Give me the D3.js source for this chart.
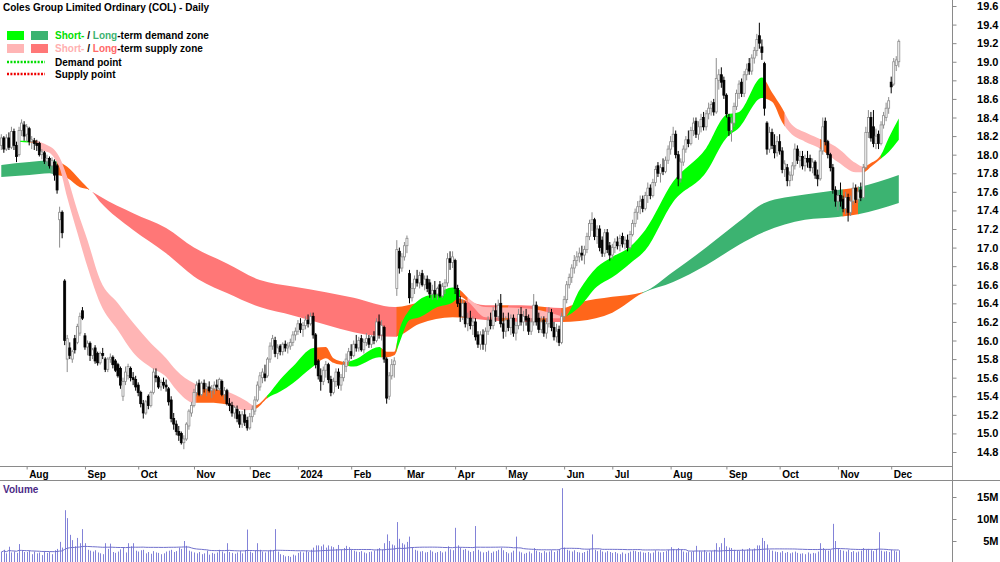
<!DOCTYPE html>
<html>
<head>
<meta charset="utf-8">
<script src="https://cdn.jsdelivr.net/npm/d3@7"></script>
<style>
  body { margin: 0; background: #fff; }
  svg { display: block; font-family: "Liberation Sans", Arial, sans-serif; }
</style>
</head>
<body>
<svg id="chart" width="1000" height="562"></svg>
<script>
// daily bars, one array per month: [open, high, low, close, volume (millions)]
var jul23 = [
  [18.10,18.22,18.05,18.18,2.5],[18.18,18.20,18.02,18.06,3.0],[18.06,18.22,18.04,18.18,2.2],
  [18.18,18.24,18.05,18.08,3.7],[18.08,18.30,18.06,18.25,2.4],[18.25,18.28,18.05,18.10,2.6],
  [18.10,18.14,17.92,17.98,2.3],[18.00,18.30,17.98,18.26,4.3],[18.26,18.38,18.20,18.34,2.8],
  [18.32,18.36,18.15,18.20,2.5]
];
var aug23 = [
  [18.22,18.33,18.14,18.30,2.5],[18.28,18.30,18.10,18.14,2.8],[18.14,18.20,18.06,18.16,2.0],
  [18.15,18.18,18.05,18.12,2.6],[18.12,18.16,18.04,18.10,2.2],[18.12,18.14,17.98,18.00,2.4],
  [18.00,18.06,17.95,18.03,1.8],[18.02,18.04,17.90,17.93,2.7],[17.93,18.00,17.88,17.96,2.3],
  [17.96,17.98,17.85,17.88,2.5],[17.88,17.97,17.80,17.94,2.0],[17.92,17.95,17.72,17.78,2.9],
  [17.88,17.90,17.58,17.62,3.2],[17.30,17.44,17.00,17.38,4.8],[17.38,17.40,17.10,17.16,3.5],
  [16.64,16.66,15.95,16.00,12.0],[15.80,16.06,15.66,16.02,10.2],[15.92,15.98,15.80,15.84,6.4],
  [15.80,15.90,15.76,15.88,5.2],[16.02,16.06,15.86,15.90,3.8],[15.98,16.18,15.96,16.15,5.7],
  [16.08,16.30,16.05,16.26,4.5],[16.32,16.36,16.22,16.24,7.7]
];
var sep23 = [
  [16.05,16.08,15.90,15.93,4.5],[15.93,16.00,15.84,15.97,3.0],[15.97,15.99,15.78,15.84,2.8],
  [15.84,15.92,15.80,15.90,2.6],[15.92,15.95,15.75,15.78,2.9],[15.86,15.88,15.73,15.76,2.4],
  [15.76,15.88,15.74,15.86,2.2],[15.86,15.92,15.80,15.84,2.0],[15.80,15.82,15.66,15.69,4.5],
  [15.69,15.82,15.66,15.80,3.2],[15.80,15.86,15.76,15.82,4.4],[15.82,15.84,15.70,15.74,2.5],
  [15.78,15.80,15.66,15.68,2.3],[15.74,15.76,15.60,15.62,2.6],[15.70,15.72,15.48,15.52,3.1],
  [15.40,15.60,15.35,15.56,3.6],[15.56,15.72,15.52,15.66,2.4],[15.62,15.75,15.58,15.72,4.5],
  [15.70,15.72,15.56,15.60,3.8],[15.60,15.66,15.52,15.58,4.5],[15.58,15.62,15.46,15.50,2.8]
];
var oct23 = [
  [15.52,15.55,15.40,15.44,2.6],[15.44,15.46,15.28,15.32,2.9],[15.32,15.36,15.16,15.22,3.0],
  [15.22,15.36,15.20,15.34,2.2],[15.40,15.42,15.26,15.30,2.5],[15.30,15.46,15.28,15.44,2.1],
  [15.44,15.70,15.42,15.66,2.7],[15.62,15.70,15.55,15.60,2.4],[15.60,15.62,15.48,15.50,2.3],
  [15.50,15.58,15.46,15.55,2.0],[15.55,15.60,15.48,15.52,2.2],[15.52,15.58,15.45,15.50,2.6],
  [15.48,15.50,15.30,15.34,2.8],[15.36,15.40,15.12,15.16,3.0],[15.16,15.22,15.04,15.10,2.5],
  [15.10,15.14,14.98,15.02,2.7],[15.02,15.08,14.92,14.98,3.5],[15.00,15.02,14.88,14.90,3.2],
  [14.90,14.98,14.83,14.94,5.0],[14.94,15.12,14.92,15.10,3.9],[15.08,15.26,15.04,15.24,2.8],
  [15.22,15.34,15.18,15.30,2.6]
];
var nov23 = [
  [15.30,15.48,15.28,15.44,2.4],[15.44,15.56,15.40,15.52,2.2],[15.54,15.58,15.40,15.42,2.5],
  [15.42,15.56,15.40,15.54,2.0],[15.54,15.58,15.44,15.48,2.2],[15.48,15.54,15.40,15.50,2.8],
  [15.50,15.56,15.44,15.46,1.9],[15.46,15.52,15.38,15.48,2.3],[15.48,15.56,15.42,15.52,2.1],
  [15.52,15.58,15.46,15.50,2.4],[15.48,15.60,15.46,15.58,3.0],[15.56,15.58,15.40,15.42,2.6],
  [15.42,15.50,15.36,15.46,2.2],[15.46,15.48,15.30,15.32,4.5],[15.32,15.38,15.24,15.30,2.5],
  [15.30,15.34,15.18,15.22,2.3],[15.22,15.30,15.16,15.28,2.1],[15.26,15.30,15.12,15.16,2.4],
  [15.20,15.24,15.06,15.10,2.7],[15.10,15.24,15.06,15.20,2.2],[15.20,15.26,15.08,15.12,2.9],
  [15.14,15.18,15.03,15.06,7.6]
];
var dec23 = [
  [15.06,15.22,15.04,15.18,2.6],[15.18,15.30,15.12,15.26,2.3],[15.24,15.40,15.20,15.36,2.8],
  [15.36,15.56,15.34,15.52,4.5],[15.50,15.66,15.46,15.62,3.0],[15.60,15.70,15.54,15.66,2.6],
  [15.64,15.74,15.56,15.60,2.4],[15.62,15.82,15.60,15.80,2.7],[15.80,15.98,15.76,15.94,3.0],
  [15.94,16.06,15.90,16.02,2.8],[16.00,16.04,15.82,15.86,7.7],[15.86,15.96,15.80,15.92,2.6],
  [15.94,15.96,15.84,15.88,2.0],[15.88,15.98,15.84,15.96,1.8],[15.96,16.00,15.88,15.92,1.5],
  [15.92,15.98,15.86,15.94,1.6],[15.94,16.02,15.90,15.98,1.4],[15.98,16.10,15.94,16.06,1.9],
  [16.06,16.14,16.00,16.10,1.7]
];
var jan24 = [
  [16.10,16.22,16.06,16.18,2.3],[16.18,16.24,16.08,16.12,2.6],[16.12,16.20,16.04,16.16,2.4],
  [16.16,16.26,16.12,16.22,2.8],[16.22,16.28,16.14,16.18,2.5],[16.18,16.30,16.16,16.26,3.0],
  [16.26,16.30,16.02,16.06,3.5],[16.06,16.08,15.70,15.74,4.0],[15.78,15.80,15.58,15.62,4.0],
  [15.62,15.70,15.46,15.56,3.8],[15.56,15.72,15.52,15.68,4.2],[15.68,15.78,15.60,15.74,3.5],
  [15.74,15.76,15.54,15.58,4.0],[15.58,15.62,15.40,15.44,3.8],[15.44,15.60,15.42,15.56,3.6],
  [15.56,15.70,15.50,15.66,3.2],[15.66,15.70,15.48,15.52,4.1],[15.52,15.64,15.46,15.60,3.0],
  [15.60,15.78,15.56,15.74,3.4],[15.72,15.86,15.66,15.80,3.9],[15.78,15.92,15.74,15.88,3.6]
];
var feb24 = [
  [15.88,15.96,15.80,15.84,3.0],[15.84,16.00,15.82,15.96,2.8],[15.96,16.06,15.88,15.92,2.6],
  [15.92,16.04,15.88,16.00,2.5],[16.02,16.06,15.88,15.90,2.7],[15.90,16.02,15.86,15.98,2.4],
  [15.98,16.08,15.94,16.02,2.2],[16.02,16.06,15.92,15.96,2.5],[15.96,16.06,15.92,16.04,2.6],
  [16.04,16.10,15.96,16.00,2.8],[16.00,16.24,15.98,16.20,3.2],[16.20,16.28,16.02,16.06,3.4],
  [16.06,16.22,16.00,16.16,3.0],[16.14,16.16,15.76,15.80,4.5],[15.80,15.82,15.32,15.38,6.5],
  [15.40,15.66,15.36,15.62,5.0],[15.62,15.80,15.58,15.74,4.2],[15.74,15.82,15.60,15.78,4.0],
  [16.56,17.08,16.48,16.98,9.3],[16.96,17.00,16.72,16.78,5.5],[16.78,16.94,16.74,16.90,4.5]
];
var mar24 = [
  [16.90,17.06,16.86,17.02,4.2],[17.02,17.13,16.94,17.10,4.8],[16.72,16.76,16.40,16.46,6.0],
  [16.46,16.62,16.42,16.56,3.5],[16.56,16.70,16.50,16.66,3.0],[16.66,16.76,16.58,16.62,2.8],
  [16.62,16.74,16.56,16.70,2.6],[16.72,16.76,16.58,16.60,2.7],[16.60,16.70,16.54,16.66,2.4],
  [16.66,16.70,16.52,16.56,2.5],[16.62,16.66,16.46,16.50,2.9],[16.50,16.60,16.44,16.54,2.6],
  [16.54,16.64,16.46,16.50,2.3],[16.50,16.58,16.44,16.56,2.5],[16.60,16.64,16.46,16.48,2.7],
  [16.48,16.62,16.46,16.58,2.4],[16.58,16.66,16.50,16.62,2.6],[16.62,16.94,16.58,16.88,3.8],
  [16.88,16.96,16.76,16.84,3.1],[16.84,16.96,16.78,16.90,2.9]
];
var apr24 = [
  [16.86,16.88,16.50,16.56,8.0],[16.56,16.60,16.36,16.40,4.0],[16.40,16.48,16.20,16.26,3.5],
  [16.26,16.44,16.22,16.40,3.0],[16.40,16.42,16.14,16.18,3.2],[16.18,16.30,16.10,16.24,2.8],
  [16.24,16.32,16.12,16.16,2.5],[16.16,16.26,16.06,16.20,2.7],[16.20,16.24,16.00,16.04,8.4],
  [16.06,16.10,15.92,15.96,3.0],[15.96,16.10,15.90,16.06,2.6],[16.06,16.12,15.90,15.96,2.4],
  [15.96,16.14,15.88,16.10,2.5],[16.10,16.26,16.06,16.22,2.8],[16.22,16.30,16.12,16.16,2.3],
  [16.16,16.36,16.12,16.32,2.6],[16.32,16.40,16.20,16.26,2.7],[16.26,16.44,16.22,16.38,3.0],
  [16.40,16.50,16.14,16.18,3.4],[16.18,16.30,16.02,16.10,2.9]
];
var may24 = [
  [16.10,16.26,16.04,16.22,2.5],[16.22,16.30,16.10,16.14,2.2],[16.14,16.28,16.06,16.24,2.4],
  [16.24,16.28,16.04,16.08,2.8],[16.08,16.20,16.00,16.16,6.0],[16.16,16.34,16.12,16.28,2.6],
  [16.28,16.36,16.16,16.20,2.4],[16.20,16.32,16.10,16.26,2.1],[16.26,16.34,16.16,16.22,2.3],
  [16.24,16.28,16.06,16.10,2.6],[16.10,16.24,16.06,16.20,2.2],[16.20,16.50,16.16,16.38,3.4],
  [16.38,16.42,16.16,16.20,2.8],[16.24,16.30,16.08,16.12,2.5],[16.12,16.26,16.08,16.20,2.3],
  [16.22,16.26,16.04,16.08,2.7],[16.08,16.24,16.02,16.18,2.4],[16.18,16.36,16.14,16.30,2.6],
  [16.30,16.34,16.10,16.14,2.9],[16.14,16.20,16.00,16.04,2.5],[16.04,16.18,15.98,16.10,2.8],
  [16.12,16.16,15.94,15.98,3.2],[15.98,16.30,15.96,16.26,17.0]
];
var jun24 = [
  [16.26,16.48,16.22,16.44,3.5],[16.44,16.64,16.40,16.60,3.0],[16.60,16.72,16.56,16.68,2.8],
  [16.68,16.82,16.62,16.78,2.6],[16.78,16.92,16.72,16.86,2.9],[16.86,16.96,16.80,16.90,2.5],
  [16.90,17.00,16.84,16.94,2.4],[16.94,17.02,16.86,16.92,2.3],[16.92,17.02,16.82,16.98,2.5],
  [16.98,17.16,16.94,17.12,2.8],[17.12,17.30,17.08,17.26,3.2],[17.26,17.38,17.18,17.30,6.5],
  [17.30,17.32,17.08,17.12,3.0],[17.12,17.24,17.04,17.20,2.7],[17.20,17.24,16.96,17.00,3.0],
  [17.08,17.12,16.90,16.94,2.6],[16.94,17.20,16.90,17.16,2.4],[17.16,17.20,16.94,16.98,2.7],
  [17.02,17.06,16.86,16.92,2.5]
];
var jul24 = [
  [16.92,17.04,16.88,17.00,2.3],[17.00,17.10,16.94,17.06,2.5],[17.06,17.12,16.98,17.02,2.2],
  [17.02,17.14,16.96,17.10,2.0],[17.12,17.16,17.00,17.04,2.4],[17.04,17.12,16.98,17.08,2.1],
  [17.08,17.14,16.96,17.00,2.3],[17.00,17.18,16.98,17.14,2.6],[17.14,17.30,17.12,17.26,2.8],
  [17.26,17.42,17.22,17.38,2.7],[17.38,17.50,17.30,17.44,2.5],[17.44,17.56,17.36,17.50,2.6],
  [17.52,17.56,17.38,17.42,2.4],[17.42,17.60,17.40,17.56,2.3],[17.56,17.70,17.48,17.64,2.5],
  [17.64,17.68,17.52,17.56,2.2],[17.56,17.74,17.54,17.70,2.4],[17.70,17.88,17.66,17.84,2.9],
  [17.88,17.92,17.76,17.80,2.6],[17.80,17.90,17.70,17.86,2.4],[17.86,17.96,17.78,17.82,2.5],
  [17.82,17.98,17.80,17.94,2.7],[17.94,18.10,17.90,18.06,3.0]
];
var aug24 = [
  [18.06,18.20,18.00,18.14,3.6],[18.14,18.30,18.08,18.22,3.2],[18.22,18.26,17.96,18.00,3.0],
  [18.00,18.04,17.66,17.74,3.4],[17.74,17.96,17.70,17.92,3.0],[17.92,18.10,17.88,18.06,2.6],
  [18.06,18.20,18.02,18.16,2.4],[18.16,18.26,18.08,18.12,2.6],[18.12,18.30,18.10,18.26,2.5],
  [18.26,18.40,18.20,18.34,2.7],[18.36,18.40,18.18,18.22,3.9],[18.22,18.36,18.16,18.30,2.8],
  [18.30,18.44,18.24,18.38,2.6],[18.40,18.46,18.26,18.30,2.9],[18.30,18.48,18.26,18.44,2.5],
  [18.44,18.56,18.38,18.50,2.4],[18.50,18.58,18.42,18.54,2.7],[18.56,18.60,18.42,18.46,3.0],
  [18.46,19.04,18.44,18.82,4.5],[18.80,18.92,18.70,18.86,3.6],[18.86,18.94,18.72,18.78,4.5],
  [18.80,18.84,18.60,18.64,5.7]
];
var sep24 = [
  [18.64,18.66,18.40,18.44,3.8],[18.40,18.44,18.20,18.26,3.5],[18.26,18.40,18.14,18.34,3.4],
  [18.34,18.56,18.30,18.52,3.0],[18.52,18.70,18.48,18.66,2.8],[18.66,18.80,18.60,18.76,2.7],
  [18.78,18.82,18.62,18.66,3.2],[18.66,18.90,18.62,18.86,2.9],[18.86,18.98,18.80,18.92,3.1],
  [18.98,19.04,18.86,18.90,3.4],[18.90,19.08,18.86,19.04,3.0],[19.04,19.16,18.98,19.12,3.3],
  [19.12,19.30,19.06,19.24,4.0],[19.28,19.42,19.14,19.20,4.0],[19.16,19.24,19.02,19.10,5.7],
  [18.98,19.00,18.42,18.50,5.0],[18.34,18.36,18.00,18.06,4.2],[18.06,18.30,18.02,18.24,3.0],
  [18.24,18.28,18.06,18.10,2.8],[18.10,18.22,17.96,18.02,2.6],[18.02,18.20,17.98,18.14,2.5]
];
var oct24 = [
  [18.14,18.22,18.00,18.04,2.4],[18.04,18.08,17.80,17.84,2.7],[17.84,17.94,17.76,17.90,2.3],
  [17.86,17.90,17.66,17.72,2.5],[17.72,17.82,17.66,17.78,2.2],[17.78,17.92,17.72,17.88,2.4],
  [17.88,18.12,17.84,18.06,2.6],[18.06,18.10,17.90,17.94,2.3],[17.94,18.04,17.86,17.98,2.1],
  [17.98,18.04,17.84,17.88,2.2],[17.88,18.00,17.82,17.96,2.0],[17.96,18.04,17.86,17.92,2.4],
  [17.96,18.00,17.82,17.86,2.1],[17.86,17.96,17.80,17.92,2.3],[17.92,17.94,17.74,17.78,2.2],
  [17.78,17.84,17.66,17.74,2.6],[17.74,18.08,17.72,18.04,4.5],[18.04,18.40,18.00,18.30,3.4],
  [18.36,18.40,18.10,18.14,3.0],[18.14,18.16,17.96,18.00,2.8],[18.00,18.02,17.82,17.86,3.0],
  [17.86,17.90,17.58,17.62,8.9],[17.62,17.66,17.44,17.50,5.0]
];
var nov24 = [
  [17.50,17.62,17.40,17.56,3.2],[17.56,17.70,17.44,17.50,3.0],[17.52,17.56,17.38,17.42,2.8],
  [17.42,17.60,17.36,17.54,2.6],[17.54,17.58,17.28,17.38,3.0],[17.38,17.56,17.34,17.50,2.5],
  [17.50,17.70,17.46,17.64,2.7],[17.64,17.68,17.48,17.52,2.4],[17.52,17.66,17.48,17.60,2.6],
  [17.62,17.70,17.50,17.54,2.8],[17.54,17.90,17.52,17.86,3.4],[17.86,18.30,17.84,18.24,3.0],
  [18.24,18.48,18.18,18.40,3.2],[18.40,18.46,18.14,18.18,2.9],[18.30,18.48,18.08,18.12,2.7],
  [18.12,18.28,18.06,18.20,3.2],[18.22,18.26,18.06,18.12,7.0],[18.12,18.36,18.10,18.32,2.8],
  [18.32,18.46,18.28,18.42,2.6],[18.40,18.56,18.36,18.50,2.7],[18.50,18.62,18.44,18.58,2.5]
];
var dec24 = [
  [18.78,18.84,18.66,18.73,3.0],[18.76,19.04,18.74,19.00,2.8],[18.96,19.06,18.90,19.02,2.6],
  [19.00,19.24,18.94,19.22,2.9]
];

// first bar of each month (bar index) and its label
var monthStart = [10, 33, 54, 76, 98, 117, 138, 159, 179, 199, 222, 241, 264, 286, 307, 330, 351];
var monthLabel = ["Aug","Sep","Oct","Nov","Dec","2024","Feb","Mar","Apr","May","Jun","Jul","Aug","Sep","Oct","Nov","Dec"];

// long-term zone edges (bar index, top, bottom)
var ltIdx = [0, 11, 19, 22, 26, 31, 35, 39, 52, 65, 76, 89, 102, 115, 128, 139, 155, 165, 178, 191, 205, 221, 228, 241, 253, 265, 278, 291, 301, 317, 330, 338, 354];
var ltTop = [17.89,17.92,17.94,17.93,17.87,17.73,17.62,17.55,17.37,17.21,17.00,16.83,16.65,16.58,16.52,16.46,16.36,16.41,16.46,16.38,16.38,16.35,16.41,16.47,16.52,16.74,17.00,17.28,17.48,17.57,17.62,17.65,17.78];
var ltBot = [17.76,17.78,17.80,17.78,17.75,17.65,17.62,17.49,17.19,16.94,16.69,16.51,16.36,16.27,16.17,16.09,16.04,16.18,16.25,16.22,16.20,16.20,16.21,16.30,16.51,16.63,16.81,17.03,17.17,17.30,17.33,17.36,17.48];
// [from bar, to bar, state]  G demand, R supply, O in between
var ltState = [[0,22,"G"],[22,35,"O"],[35,156,"R"],[156,183,"O"],[183,197,"R"],[197,200,"O"],[200,210,"R"],[210,215,"O"],[215,221,"R"],[221,253,"O"],[253,332,"G"],[332,338,"O"],[338,354,"G"]];

// short-term zone edges
var stIdx = [7, 11, 14, 15, 19, 21, 23, 26, 30, 34, 39, 46, 52, 59, 65, 69, 76, 82, 89, 96, 100, 105, 110, 115, 123, 128, 131, 136, 139, 149, 152, 155, 157, 161, 165, 172, 178, 181, 184, 191, 205, 220, 222, 228, 235, 241, 248, 254, 265, 278, 286, 291, 300, 304, 308, 311, 317, 322, 330, 337, 340, 343, 347, 350, 354];
var stTop = [18.15,18.15,18.15,18.14,18.09,18.05,17.97,17.76,17.40,17.08,16.65,16.40,16.19,15.97,15.81,15.68,15.54,15.49,15.45,15.36,15.30,15.41,15.58,15.72,15.92,15.93,15.81,15.77,15.79,15.93,15.88,15.88,16.11,16.33,16.44,16.51,16.57,16.54,16.46,16.36,16.35,16.27,16.25,16.54,16.79,16.90,17.01,17.19,17.71,18.07,18.43,18.46,18.83,18.67,18.50,18.35,18.24,18.18,18.07,17.91,17.87,17.91,18.00,18.18,18.39];
var stBot = [18.14,18.13,18.12,18.05,18.02,17.96,17.86,17.54,17.16,16.79,16.40,16.11,15.87,15.71,15.61,15.47,15.33,15.33,15.31,15.25,15.26,15.38,15.45,15.54,15.72,15.81,15.76,15.73,15.72,15.82,15.82,15.84,15.97,16.22,16.25,16.36,16.41,16.47,16.42,16.25,16.24,16.24,16.25,16.36,16.58,16.68,16.83,16.97,17.49,17.81,18.18,18.29,18.61,18.57,18.35,18.24,18.14,18.08,17.92,17.81,17.81,17.87,17.96,18.03,18.16];
// g demand, p supply, O in between
var stState = [[7,11,"g"],[11,14,"O"],[14,77,"p"],[77,89,"O"],[89,100,"p"],[100,105,"O"],[105,124,"g"],[124,137,"O"],[137,150,"g"],[150,156,"O"],[156,181,"g"],[181,184,"O"],[184,222,"p"],[222,301,"g"],[301,309,"O"],[309,323,"p"],[323,326,"O"],[326,340,"p"],[340,347,"O"],[347,354,"g"]];

var priceTicks = d3.range(14.8, 19.61, 0.2);
var volumeTicks = [5, 10, 15];

//***********************************

var colours = {
  G : "#3cb371",
  R : "#ff7777",
  g : "#00ff00",
  p : "#ffb5b5",
  O : "#ff661a",
};

var bars = [].concat(jul23, aug23, sep23, oct23, nov23, dec23, jan24, feb24, mar24, apr24, may24, jun24, jul24, aug24, sep24, oct24, nov24, dec24);

var panel = { right : 952, priceBottom : 466, dateBottom : 480.5 };

var x = d3.scaleLinear().domain([0, bars.length - 1]).range([1.3, 898.8]);
var y = d3.scaleLinear().domain([14.8, 19.6]).range([452, 6]);
var yv = d3.scaleLinear().domain([0, 15]).range([563, 497]);

var svg = d3.select("#chart");
var defs = svg.append("defs");
defs.append("clipPath").attr("id", "priceClip")
  .append("rect").attr("x", 0).attr("y", 0).attr("width", panel.right).attr("height", panel.priceBottom);

var gp = svg.append("g").attr("clip-path", "url(#priceClip)");


function drawZone(idx, top, bot, states, name) {
  var pts = idx.map(function(d, k) { return { i : d, t : top[k], b : bot[k] }; });
  var area = d3.area()
    .x(function(d) { return x(d.i); })
    .y0(function(d) { return y(d.b); })
    .y1(function(d) { return y(d.t); })
    .curve(d3.curveMonotoneX);

  states.forEach(function(s, k) {
    var id = name + k;
    defs.append("clipPath").attr("id", id)
      .append("rect")
      .attr("x", x(s[0]) - 0.3)
      .attr("width", x(s[1]) - x(s[0]) + 0.6)
      .attr("y", 0).attr("height", panel.priceBottom);
    gp.append("path").datum(pts)
      .attr("d", area)
      .attr("fill", colours[s[2]])
      .attr("clip-path", "url(#" + id + ")");
  });
}

drawZone(ltIdx, ltTop, ltBot, ltState, "lt");
drawZone(stIdx, stTop, stBot, stState, "st");


// candles
var candle = gp.selectAll("g.bar").data(bars).join("g").attr("class", "bar");

candle.append("line")
  .attr("x1", function(d, i) { return x(i); })
  .attr("x2", function(d, i) { return x(i); })
  .attr("y1", function(d) { return y(d[1]); })
  .attr("y2", function(d) { return y(d[2]); })
  .attr("stroke", function(d) { return d[3] >= d[0] ? "#8c8c8c" : "#000"; })
  .attr("stroke-width", 1);

candle.append("rect")
  .attr("x", function(d, i) { return x(i) - 1; })
  .attr("width", 2)
  .attr("y", function(d) { return y(Math.max(d[0], d[3])); })
  .attr("height", function(d) { return Math.max(1, Math.abs(y(d[0]) - y(d[3]))); })
  .attr("fill", function(d) { return d[3] >= d[0] ? "#fff" : "#000"; })
  .attr("stroke", function(d) { return d[3] >= d[0] ? "#8c8c8c" : "#000"; })
  .attr("stroke-width", 0.8);


// volume
svg.append("g").selectAll("rect").data(bars).join("rect")
  .attr("x", function(d, i) { return Math.round(x(i)); })
  .attr("width", 1)
  .attr("y", function(d) { return yv(d[4]); })
  .attr("height", function(d) { return yv(0) - yv(d[4]); })
  .attr("fill", "#8282d8");

// 50 day average of the volume
var volAvg = bars.map(function(d, i) {
  return d3.mean(bars.slice(Math.max(0, i - 49), i + 1), function(b) { return b[4]; });
});
svg.append("path").datum(volAvg)
  .attr("d", d3.line().x(function(d, i) { return x(i); }).y(function(d) { return yv(d); }))
  .attr("fill", "none").attr("stroke", "#7070cc").attr("stroke-width", 1);


// frame lines
svg.append("line").attr("x1", panel.right + 0.5).attr("x2", panel.right + 0.5).attr("y1", 0).attr("y2", 562).attr("stroke", "#8a8a8a");
svg.append("line").attr("x1", 0).attr("x2", panel.right).attr("y1", panel.priceBottom + 0.5).attr("y2", panel.priceBottom + 0.5).attr("stroke", "#8a8a8a");
svg.append("line").attr("x1", 0).attr("x2", 1000).attr("y1", panel.dateBottom).attr("y2", panel.dateBottom).attr("stroke", "#8a8a8a");


// price axis
var gy = svg.append("g").attr("transform", "translate(" + (panel.right + 0.5) + ",0)")
  .call(d3.axisRight(y).tickValues(priceTicks).tickSize(4).tickFormat(d3.format(".1f")));
gy.select(".domain").remove();
gy.selectAll(".tick line").attr("stroke", "#8a8a8a");
gy.selectAll(".tick text").attr("x", 46).attr("text-anchor", "end")
  .attr("font-size", 11).attr("font-weight", "bold").attr("fill", "#000")
  .attr("font-family", "'Liberation Sans', Arial, sans-serif");

// volume axis
var gv = svg.append("g").attr("transform", "translate(" + (panel.right + 0.5) + ",0)")
  .call(d3.axisRight(yv).tickValues(volumeTicks).tickSize(4).tickFormat(function(d) { return d + "M"; }));
gv.select(".domain").remove();
gv.selectAll(".tick line").attr("stroke", "#8a8a8a");
gv.selectAll(".tick text").attr("x", 46).attr("text-anchor", "end")
  .attr("font-size", 11).attr("font-weight", "bold").attr("fill", "#000")
  .attr("font-family", "'Liberation Sans', Arial, sans-serif");

// month axis
var gx = svg.append("g").attr("transform", "translate(0," + (panel.priceBottom + 0.5) + ")")
  .call(d3.axisBottom(x).tickValues(monthStart).tickSize(3)
    .tickFormat(function(d, k) { return monthLabel[k]; }));
gx.select(".domain").remove();
gx.selectAll(".tick line").attr("stroke", "#8a8a8a");
gx.selectAll(".tick text").attr("x", 2).attr("y", 11).attr("dy", 0).attr("text-anchor", "start")
  .attr("font-size", 10).attr("font-weight", "bold").attr("fill", "#000")
  .attr("font-family", "'Liberation Sans', Arial, sans-serif");


// title and legend
svg.append("text").attr("x", 3).attr("y", 11)
  .attr("font-size", 10).attr("font-weight", "bold")
  .text("Coles Group Limited Ordinary (COL) - Daily");

var legendRows = [
  { y : 31, a : colours.g, b : colours.G, short : "#00e000", long : "#3cb371", rest : "-term demand zone" },
  { y : 44, a : colours.p, b : colours.R, short : "#ffb0b0", long : "#ff6868", rest : "-term supply zone" },
];
legendRows.forEach(function(r) {
  svg.append("rect").attr("x", 7).attr("y", r.y).attr("width", 17).attr("height", 9).attr("fill", r.a);
  svg.append("rect").attr("x", 31).attr("y", r.y).attr("width", 17).attr("height", 9).attr("fill", r.b);
  var t = svg.append("text").attr("x", 55).attr("y", r.y + 8).attr("font-size", 10).attr("font-weight", "bold");
  t.append("tspan").attr("fill", r.short).text("Short-");
  t.append("tspan").attr("fill", "#000").text(" / ");
  t.append("tspan").attr("fill", r.long).text("Long");
  t.append("tspan").attr("fill", "#000").text(r.rest);
});

var pointRows = [
  { y : 62, c : "#00dd00", label : "Demand point" },
  { y : 74, c : "#ee0000", label : "Supply point" },
];
pointRows.forEach(function(r) {
  svg.append("line").attr("x1", 7).attr("x2", 45).attr("y1", r.y).attr("y2", r.y)
    .attr("stroke", r.c).attr("stroke-width", 2.5).attr("stroke-dasharray", "2,1.4");
  svg.append("text").attr("x", 55).attr("y", r.y + 4).attr("font-size", 10).attr("font-weight", "bold").text(r.label);
});

svg.append("text").attr("x", 3).attr("y", 493)
  .attr("font-size", 10).attr("font-weight", "bold").attr("fill", "#4b2a86")
  .text("Volume");
</script>
</body>
</html>
